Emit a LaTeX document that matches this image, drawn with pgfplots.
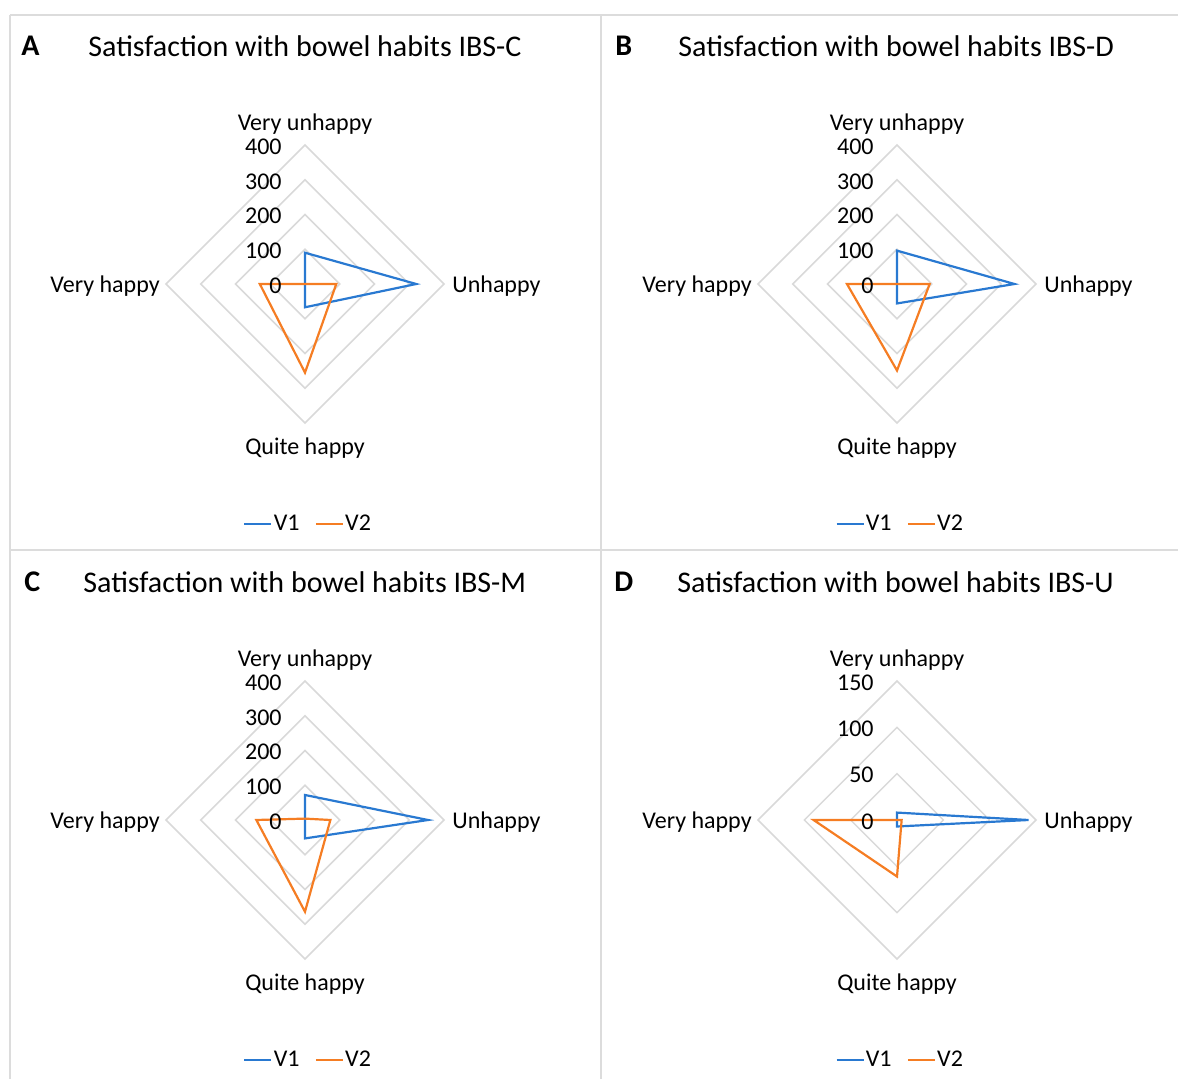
\documentclass[border=0pt]{standalone}
\usepackage{pgfplots}
\pgfplotsset{compat=1.18}
\usepackage{fontspec}
\setmainfont{Carlito}

\definecolor{vone}{RGB}{41,121,209}
\definecolor{vtwo}{RGB}{245,125,35}
\definecolor{gridgray}{RGB}{217,217,217}
\definecolor{framegray}{RGB}{220,220,220}

% Four spokes: Very unhappy (up), Unhappy (right), Quite happy (down),
% Very happy (left); a value v sits at distance v along its spoke.
\pgfplotsset{
  radar/.style={
    hide axis, clip=false, scale only axis,
    width=139pt, height=139pt,
    xmin=-#1, xmax=#1, ymin=-#1, ymax=#1,
    anchor=center,
    legend columns=2,
    legend style={draw=none, fill=none, at={(0.51,-0.363)}, anchor=center,
      font=\fontsize{12}{14}\selectfont,
      nodes={inner sep=0.6pt},
      /tikz/every even column/.append style={column sep=7pt}},
    legend image code/.code={\draw[##1] (0pt,0pt) -- (13.5pt,0pt);},
  },
  ring/.style={gridgray, line width=0.75pt, forget plot},
  sone/.style={vone, line width=1.1pt, line join=miter},
  stwo/.style={vtwo, line width=1.1pt, line join=miter},
}

\newcommand\ring[1]{\addplot[ring] coordinates {(0,#1) (#1,0) (0,-#1) (-#1,0)} -- cycle;}
\newcommand\rtick[1]{\node[anchor=east, xshift=-11.5pt, yshift=-0.8pt] at (axis cs:0,#1) {#1};}
\newcommand\spokes[1]{%
  \node[anchor=center, yshift=10.5pt] at (axis cs:0,#1) {Very unhappy};
  \node[anchor=west, xshift=4pt, yshift=-1pt] at (axis cs:#1,0) {Unhappy};
  \node[anchor=center, yshift=-12.5pt] at (axis cs:0,-#1) {Quite happy};
  \node[anchor=east, xshift=-3pt, yshift=-1pt] at (axis cs:-#1,0) {Very happy};
}

\begin{document}
\begin{tikzpicture}[every node/.style={inner sep=0pt, font=\fontsize{12}{14}\selectfont}]
\begin{scope}[x=0.5pt, y=-0.5pt]
\useasboundingbox (0,0) rectangle (1178,1079);

% panel frames
\draw[framegray, line width=0.75pt] (10,15) -- (1178,15);
\draw[framegray, line width=0.75pt] (10,15) -- (10,1079);
\draw[framegray, line width=0.75pt] (601,15) -- (601,1079);
\draw[framegray, line width=0.75pt] (10,550) -- (1178,550);

% titles
\tikzset{panel/.style={anchor=west, font=\fontsize{15}{18}\selectfont\bfseries},
         ptitle/.style={anchor=west, font=\fontsize{15}{18}\selectfont}}
\node[panel]  at (21,46)  {A};
\node[ptitle] at (88,46)  {Satisfaction with bowel habits IBS-C};
\node[panel]  at (615,46) {B};
\node[ptitle] at (678,46) {Satisfaction with bowel habits IBS-D};
\node[panel]  at (24,582) {C};
\node[ptitle] at (83,582) {Satisfaction with bowel habits IBS-M};
\node[panel]  at (614,582) {D};
\node[ptitle] at (677,582) {Satisfaction with bowel habits IBS-U};
\end{scope}

% A: IBS-C
\begin{axis}[radar=400, at={(152.5pt,-142pt)}]
  \ring{100}\ring{200}\ring{300}\ring{400}
  \addplot[sone] coordinates {(0,90) (320,0) (0,-67) (0,0)} -- cycle;
  \addplot[stwo] coordinates {(0,0) (90,0) (0,-255) (-130,0)} -- cycle;
  \legend{V1,V2}
  \rtick{0}\rtick{100}\rtick{200}\rtick{300}\rtick{400}
  \spokes{400}
\end{axis}

% B: IBS-D
\begin{axis}[radar=400, at={(448.5pt,-142pt)}]
  \ring{100}\ring{200}\ring{300}\ring{400}
  \addplot[sone] coordinates {(0,96) (338,0) (0,-56) (0,0)} -- cycle;
  \addplot[stwo] coordinates {(0,0) (94,0) (0,-249) (-144,0)} -- cycle;
  \legend{V1,V2}
  \rtick{0}\rtick{100}\rtick{200}\rtick{300}\rtick{400}
  \spokes{400}
\end{axis}

% C: IBS-M
\begin{axis}[radar=400, at={(152.5pt,-410pt)}]
  \ring{100}\ring{200}\ring{300}\ring{400}
  \addplot[sone] coordinates {(0,72) (354,0) (0,-53) (0,0)} -- cycle;
  \addplot[stwo] coordinates {(0,4) (73,0) (0,-264) (-140,0)} -- cycle;
  \legend{V1,V2}
  \rtick{0}\rtick{100}\rtick{200}\rtick{300}\rtick{400}
  \spokes{400}
\end{axis}

% D: IBS-U
\begin{axis}[radar=150, at={(448.5pt,-410pt)}]
  \ring{50}\ring{100}\ring{150}
  \addplot[sone] coordinates {(0,8) (142,0) (0,-7) (0,0)} -- cycle;
  \addplot[stwo] coordinates {(0,0) (5,0) (0,-61) (-90,0)} -- cycle;
  \legend{V1,V2}
  \rtick{0}\rtick{50}\rtick{100}\rtick{150}
  \spokes{150}
\end{axis}
\end{tikzpicture}
\end{document}
